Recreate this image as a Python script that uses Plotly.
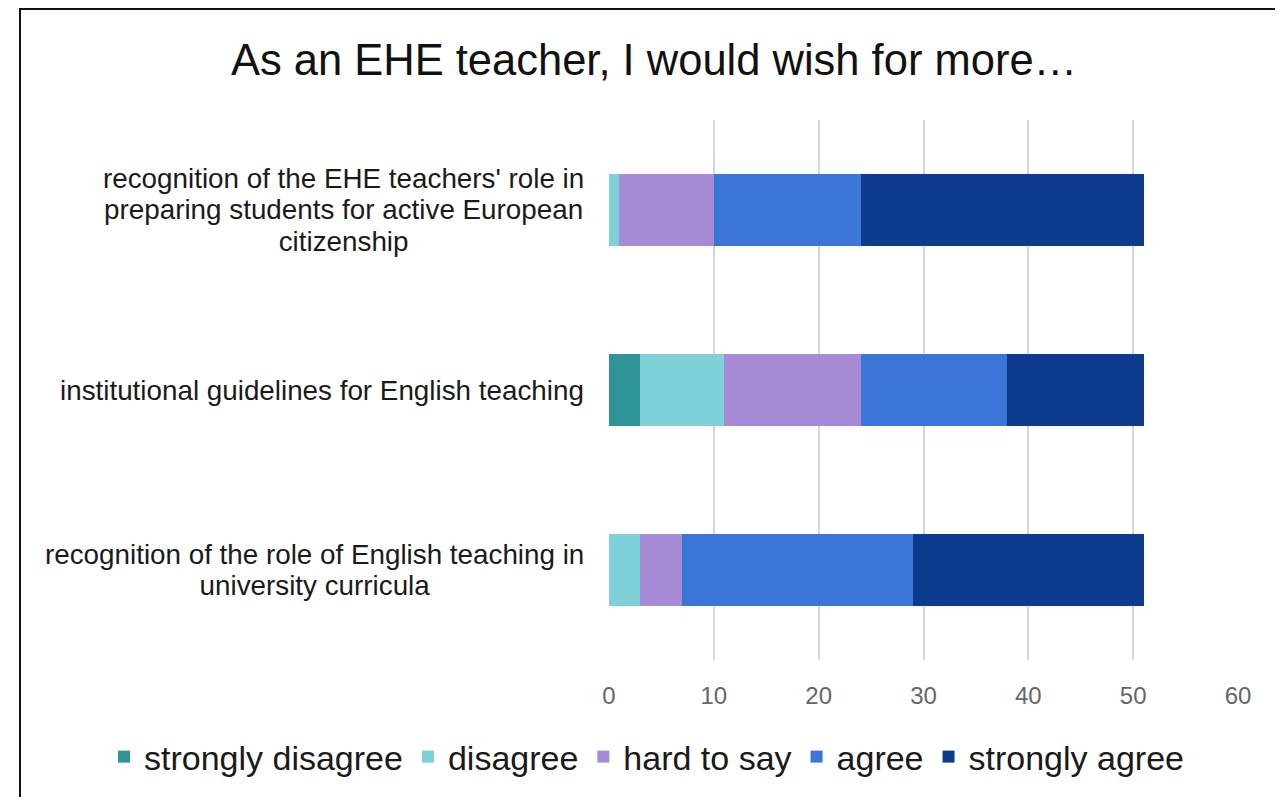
import plotly.graph_objects as go

categories = [
    "recognition of the role of English teaching in<br>university curricula",
    "institutional guidelines for English teaching",
    "recognition of the EHE teachers' role in<br>preparing students for active European<br>citizenship",
]
series_names = ["strongly disagree", "disagree", "hard to say", "agree", "strongly agree"]
strongly_disagree = [0, 3, 0]
disagree = [3, 8, 1]
hard_to_say = [4, 13, 9]
agree = [22, 14, 14]
strongly_agree = [22, 13, 27]
values = [strongly_disagree, disagree, hard_to_say, agree, strongly_agree]
colors = ["#2f9497", "#7ed0d9", "#a88bd7", "#3c76d8", "#0c3b8e"]
x_ticks = [0, 10, 20, 30, 40, 50, 60]

font = "Liberation Sans, Arial, sans-serif"
W, H = 1275, 789
L, R, T, B = 601, 1230, 112, 652  # plot area edges in figure pixels

fig = go.Figure()
for name, vals, col in zip(series_names, values, colors):
    fig.add_trace(go.Bar(
        y=categories, x=vals, name=name, orientation="h",
        marker=dict(color=col, line=dict(width=0)),
        hoverinfo="x+name",
    ))

annotations = []
for cat in categories:
    label = "<br>".join("<span style='font-size:27.8px'>%s</span>" % ln for ln in cat.split("<br>"))
    annotations.append(dict(
        x=0, y=cat, xref="paper", yref="y", text=label, showarrow=False,
        xanchor="right", yanchor="middle", align="center", xshift=-23,
        font=dict(family=font, size=24.2, color="#1a1a1a"),
    ))

fig.update_layout(
    width=W, height=H,
    barmode="stack", bargap=0.6,
    paper_bgcolor="white", plot_bgcolor="white",
    margin=dict(l=L, r=W - R, t=T, b=H - B, autoexpand=False),
    title=dict(text="As an EHE teacher, I would wish for more…", x=646 / W, xanchor="center",
               xref="container", yref="container",
               y=1 - 52 / H, yanchor="middle",
               font=dict(family=font, size=43.5, color="#111111")),
    xaxis=dict(range=[0, 60], tickvals=x_ticks, showgrid=True, gridcolor="#d6d6d6", gridwidth=2,
               zeroline=False, showline=False, ticks="", ticklabelstandoff=19,
               tickfont=dict(family=font, size=24, color="#666666")),
    yaxis=dict(showticklabels=False, showgrid=False, zeroline=False, showline=False,
               categoryorder="array", categoryarray=categories),
    legend=dict(orientation="h", xref="paper", yref="paper",
                x=(96 - L) / (R - L), xanchor="left", y=-(749 - T) / (B - T) + 1, yanchor="middle",
                font=dict(family=font, size=34, color="#1a1a1a"), traceorder="normal",
                itemwidth=30),
    annotations=annotations,
    shapes=[dict(type="rect", xref="paper", yref="paper",
                 x0=(12 - L) / (R - L), x1=2.0, y0=-1.0, y1=1 + (T - 1) / (B - T),
                 line=dict(color="#111111", width=2), fillcolor="rgba(0,0,0,0)", layer="above")],
    showlegend=True,
)

fig.write_html("out.html")
